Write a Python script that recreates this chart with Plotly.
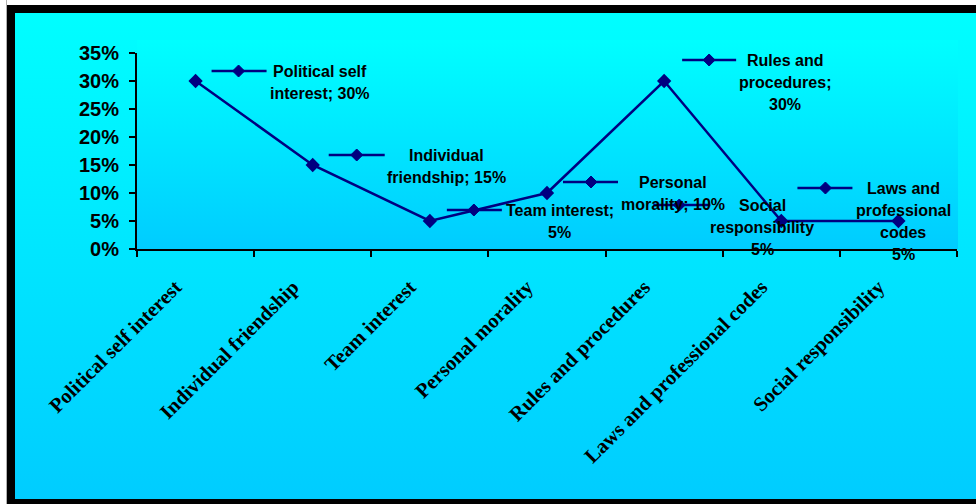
import base64
import plotly.graph_objects as go

# ---------------- data ----------------
categories = ["Political self interest", "Individual friendship", "Team interest",
              "Personal morality", "Rules and procedures",
              "Laws and professional codes", "Social responsibility"]
values = [0.30, 0.15, 0.05, 0.10, 0.30, 0.05, 0.05]
label_texts = [
    "Political self\ninterest; 30%",
    "Individual\nfriendship; 15%",
    "Team interest;\n5%",
    "Personal\nmorality; 10%",
    "Rules and\nprocedures;\n30%",
    "Social\nresponsibility\n5%",
    "Laws and\nprofessional\ncodes\n5%",
]
y_ticks = [0, 0.05, 0.10, 0.15, 0.20, 0.25, 0.30, 0.35]

# ---------------- styling / label placement (pixels relative to point) ----------------
NAVY = "#000080"
W, H = 976, 504
L, R, T, B = 137, 19, 53, 255
# (key_x0, key_x1, key_diamond_x, key_dy, text_dx, text_first_dy)
label_pos = [
    (16, 71, 43, 10, 124, 10),
    (16, 72, 44, 10, 134, 10),
    (17, 72, 44, 11, 130, 11),
    (16, 71, 44, 11, 126, 11),
    (18, 72, 45, 21, 121, 21),
    (-128, -71, -102, 16, -19, 16),
    (-101, -46, -73, 33, 5, 33),
]
LINE_GAP = 22

# background (gradients + frame) as an SVG image
pw, ph = W - L - R, H - T - B
svg = f'''<svg xmlns="http://www.w3.org/2000/svg" width="{W}" height="{H}" viewBox="0 0 {W} {H}" preserveAspectRatio="none">
<defs>
<linearGradient id="a" x1="0" y1="0" x2="0" y2="1"><stop offset="0" stop-color="#00FFFF"/><stop offset="1" stop-color="#00CCFF"/></linearGradient>
<linearGradient id="b" x1="0" y1="0" x2="0" y2="1"><stop offset="0" stop-color="#00FFFF"/><stop offset="1" stop-color="#00CCFF"/></linearGradient>
</defs>
<rect width="{W}" height="{H}" fill="#ffffff"/>
<rect x="6" y="0" width="1" height="{H}" fill="#b0b0b0"/>
<rect x="11" y="9" width="1000" height="494" fill="url(#a)" stroke="#000000" stroke-width="8"/>
<rect x="{L}" y="40" width="{pw + 1}" height="{H - B - 40}" fill="url(#b)"/>
</svg>'''
src = "data:image/svg+xml;base64," + base64.b64encode(svg.encode()).decode()

fig = go.Figure()
fig.add_trace(go.Scatter(
    x=categories, y=values, mode="lines+markers",
    line=dict(color=NAVY, width=2.5),
    marker=dict(symbol="diamond", size=11, color=NAVY),
    cliponaxis=False, showlegend=False, hoverinfo="skip"))

shapes = []
annotations = []
for i, (txt, v) in enumerate(zip(label_texts, values)):
    kx0, kx1, kd, kdy, tdx, tdy = label_pos[i]
    shapes.append(dict(type="line", xref="x", yref="y",
                       xsizemode="pixel", ysizemode="pixel",
                       xanchor=i, yanchor=v, x0=kx0, x1=kx1, y0=kdy, y1=kdy,
                       line=dict(color=NAVY, width=2.5)))
    s = 6
    path = (f"M {kd - s} {kdy} L {kd} {kdy + s} L {kd + s} {kdy} L {kd} {kdy - s} Z")
    shapes.append(dict(type="path", xref="x", yref="y",
                       xsizemode="pixel", ysizemode="pixel",
                       xanchor=i, yanchor=v, path=path,
                       fillcolor=NAVY, line=dict(color=NAVY, width=1)))
    for j, line in enumerate(txt.split("\n")):
        annotations.append(dict(
            x=i, y=v, xref="x", yref="y", text=line, showarrow=False,
            xanchor="center", yanchor="middle",
            xshift=tdx, yshift=tdy - j * LINE_GAP,
            font=dict(family="Liberation Sans, Arial", size=16, color="#000000",
                      weight="bold")))

fig.update_layout(
    width=W, height=H,
    margin=dict(l=L, r=R, t=T, b=B, pad=0),
    paper_bgcolor="rgba(0,0,0,0)", plot_bgcolor="rgba(0,0,0,0)",
    shapes=shapes, annotations=annotations,
    images=[dict(source=src, xref="paper", yref="paper",
                 x=-L / pw, y=1 + T / ph, sizex=W / pw, sizey=H / ph,
                 sizing="stretch", xanchor="left", yanchor="top", layer="below")],
    xaxis=dict(type="category", categoryorder="array", categoryarray=categories,
               range=[-0.5, 6.5], showgrid=False, zeroline=False,
               showline=True, linecolor="#000000", linewidth=2,
               ticks="outside", tickson="boundaries", ticklen=6, tickwidth=2,
               tickcolor="#000000", tickangle=-45,
               ticklabelstandoff=16, ticklabelshift=-20,
               tickfont=dict(family="Liberation Serif, Times New Roman", size=20.5,
                             color="#000000", weight="bold")),
    yaxis=dict(range=[0, 0.35], tickvals=y_ticks, tickformat=".0%",
               showgrid=False, zeroline=False,
               showline=True, linecolor="#000000", linewidth=2,
               ticks="outside", ticklen=6, tickwidth=2, tickcolor="#000000",
               ticklabelstandoff=6,
               tickfont=dict(family="Liberation Sans, Arial", size=20,
                             color="#000000", weight="bold")),
)

fig.write_html("out.html")
